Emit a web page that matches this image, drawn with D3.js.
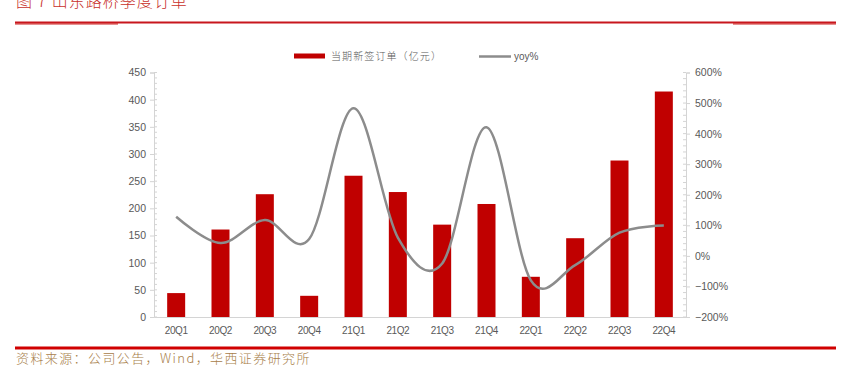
<!DOCTYPE html>
<html><head><meta charset="utf-8">
<script src="https://cdn.jsdelivr.net/npm/d3@7/dist/d3.min.js"></script>
<style>
body{margin:0;background:#fff;}
svg{display:block;}
</style></head>
<body>
<svg id="chart" width="856" height="374"></svg>
<script>
const categories = ["20Q1","20Q2","20Q3","20Q4","21Q1","21Q2","21Q3","21Q4","22Q1","22Q2","22Q3","22Q4"];
const orders = [44, 161, 226, 39, 260, 230, 170, 208, 74, 145, 288, 415];
const yoy = [128, 42, 117, 55, 483, 60, -25, 421, -80, -30, 76, 99];
const leftTicks = [0, 50, 100, 150, 200, 250, 300, 350, 400, 450];
const rightTicks = [-200, -100, 0, 100, 200, 300, 400, 500, 600];
const seriesNames = ["当期新签订单（亿元）", "yoy%"];
const titleText = "图 7  山东路桥季度订单";
const sourceText = "资料来源：公司公告，Wind，华西证券研究所";

const svg = d3.select("#chart");
const red = "#C00000";
const axisColor = "#d4d4d4";
const labelColor = "#595959";
const L = 154, R = 686, T = 72.5, B = 317;

// header
svg.append("text").attr("x", 16).attr("y", 7)
  .attr("font-family", "Noto Sans CJK SC").attr("font-size", 16).attr("font-weight", 300)
  .attr("letter-spacing", 1).attr("fill", "#c8302a").text(titleText);
svg.append("rect").attr("x", 15).attr("y", 21.5).attr("width", 821).attr("height", 2).attr("fill", "#c8161d");
svg.append("rect").attr("x", 15).attr("y", 23).attr("width", 103).attr("height", 1.6).attr("fill", "#d64a4a");
svg.append("rect").attr("x", 733).attr("y", 23).attr("width", 103).attr("height", 1.6).attr("fill", "#d64a4a");

// footer
svg.append("rect").attr("x", 15).attr("y", 346.5).attr("width", 821).attr("height", 3).attr("fill", "#d00000");
svg.append("text").attr("x", 16).attr("y", 363)
  .attr("font-family", "Noto Sans CJK SC").attr("font-size", 13).attr("font-weight", 300)
  .attr("letter-spacing", 1.4).attr("fill", "#a8804a").text(sourceText);

// scales
const x = d3.scaleBand().domain(categories).range([L, R]).paddingInner(0.594).paddingOuter(0.297);
const yL = d3.scaleLinear().domain([0, 450]).range([B, T]);
const yR = d3.scaleLinear().domain([-200, 600]).range([B, T]);

// minor ticks
const g = svg.append("g");
d3.range(0, 451, 10).forEach(v => {
  g.append("line").attr("x1", L).attr("x2", L + 3).attr("y1", yL(v)).attr("y2", yL(v))
    .attr("stroke", axisColor).attr("stroke-width", 1);
});
d3.range(-200, 601, 20).forEach(v => {
  g.append("line").attr("x1", R - 3).attr("x2", R).attr("y1", yR(v)).attr("y2", yR(v))
    .attr("stroke", axisColor).attr("stroke-width", 1);
});

// left axis
const axL = d3.axisLeft(yL).tickValues(leftTicks).tickSize(4).tickPadding(4).tickFormat(d3.format("d"));
const gl = svg.append("g").attr("transform", `translate(${L},0)`).call(axL);
gl.select(".domain").attr("stroke", axisColor);
gl.selectAll(".tick line").attr("stroke", axisColor);
gl.selectAll("text").attr("font-family", "Liberation Sans, Arial").attr("font-size", 10.5)
  .attr("fill", labelColor);

// right axis
const axR = d3.axisRight(yR).tickValues(rightTicks).tickSize(4).tickPadding(5).tickFormat(d => d3.format("d")(d) + "%");
const gr = svg.append("g").attr("transform", `translate(${R},0)`).call(axR);
gr.select(".domain").attr("stroke", axisColor);
gr.selectAll(".tick line").attr("stroke", axisColor);
gr.selectAll("text").attr("font-family", "Liberation Sans, Arial").attr("font-size", 10.5)
  .attr("fill", labelColor);

// bottom axis
const axB = d3.axisBottom(x).tickSize(0).tickPadding(10);
const gb = svg.append("g").attr("transform", `translate(0,${B})`).call(axB);
gb.select(".domain").attr("stroke", axisColor);
gb.selectAll("text").attr("font-family", "Liberation Sans, Arial").attr("font-size", 10)
  .attr("letter-spacing", -0.4).attr("fill", labelColor);

// bars
svg.append("g").selectAll("rect").data(orders).join("rect")
  .attr("x", (d, i) => x(categories[i]))
  .attr("width", x.bandwidth())
  .attr("y", d => yL(d))
  .attr("height", d => B - yL(d))
  .attr("fill", red);

// line
const line = d3.line()
  .x((d, i) => x(categories[i]) + x.bandwidth() / 2)
  .y(d => yR(d))
  .curve(d3.curveCardinal.tension(0));
svg.append("path").datum(yoy).attr("d", line)
  .attr("fill", "none").attr("stroke", "#8c8c8c").attr("stroke-width", 2.5);

// legend
const lg = svg.append("g");
lg.append("rect").attr("x", 294).attr("y", 53.5).attr("width", 31).attr("height", 5).attr("fill", red);
lg.append("text").attr("x", 331).attr("y", 60)
  .attr("font-family", "Noto Sans CJK SC").attr("font-size", 10).attr("font-weight", 300)
  .attr("letter-spacing", 1.1).attr("fill", labelColor).text(seriesNames[0]);
lg.append("line").attr("x1", 479).attr("x2", 511).attr("y1", 56.5).attr("y2", 56.5)
  .attr("stroke", "#8c8c8c").attr("stroke-width", 2.5);
lg.append("text").attr("x", 514).attr("y", 60)
  .attr("font-family", "Liberation Sans, Arial").attr("font-size", 10)
  .attr("fill", labelColor).text(seriesNames[1]);
</script>
</body></html>
